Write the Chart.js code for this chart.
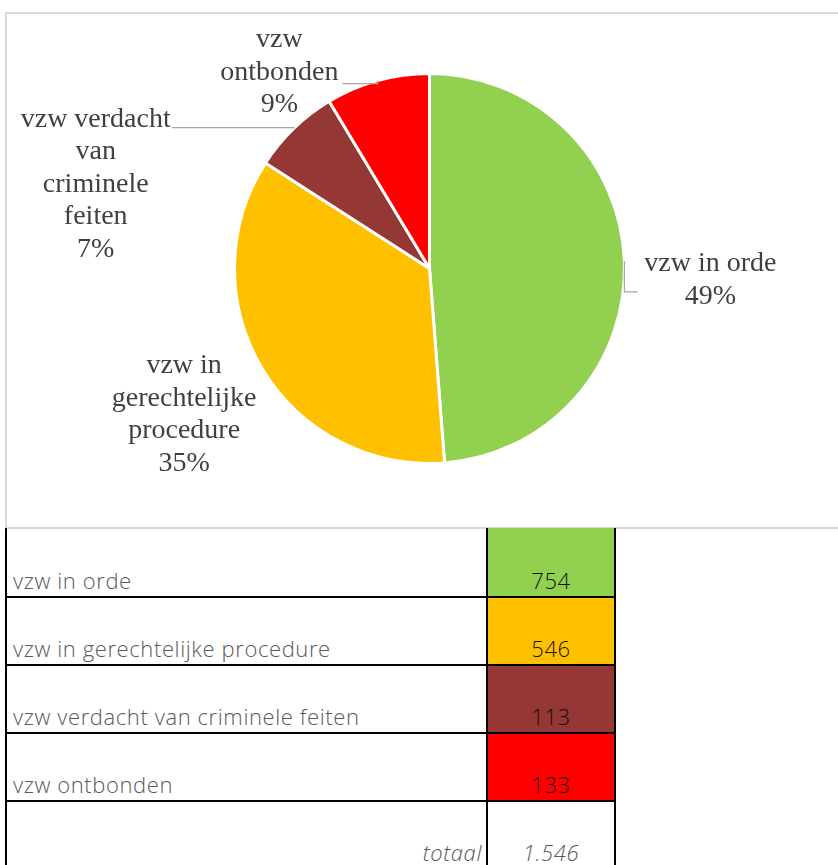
<!DOCTYPE html>
<html>
<head>
<meta charset="utf-8">
<script src="https://cdn.jsdelivr.net/npm/chart.js@4.4.1/dist/chart.umd.min.js"></script>
<style>
  html, body { margin: 0; padding: 0; background: #fff; }
  body { width: 838px; height: 865px; position: relative; overflow: hidden; }
  #kader { position: absolute; left: 5px; top: 12px; width: 900px; height: 513px; border: 2px solid #d9d9d9; }
  #grafiek { position: absolute; left: 0; top: 0; }
  #tabel { position: absolute; left: 5px; top: 528px; width: 610px; table-layout: fixed; border-collapse: collapse; font-family: "Open Sans", Lato, sans-serif; font-weight: 300; font-size: 22px; letter-spacing: 0.6px; }
  #tabel td { border: 2px solid #000; height: 65px; vertical-align: bottom; padding: 0 0 1px 0; white-space: nowrap; overflow: hidden; }
  #tabel tr:first-child td { border-top: none; height: 67px; }
  #tabel td.naam { color: #595959; padding-left: 6px; }
  #tabel td.getal { text-align: center; color: #111; }
  #tabel td.totaal { text-align: right; padding-right: 4px; font-style: italic; color: #595959; }
  #tabel td.totgetal { font-style: italic; color: #595959; }
</style>
</head>
<body>
<div id="kader"></div>
<canvas id="grafiek" width="838" height="528"></canvas>
<table id="tabel"><colgroup><col style="width:481px"><col style="width:128px"></colgroup><tbody id="rijen"></tbody></table>
<script>
  const categorieen = ['vzw in orde', 'vzw in gerechtelijke procedure', 'vzw verdacht van criminele feiten', 'vzw ontbonden'];
  const aantallen = [754, 546, 113, 133];
  const kleuren = ['#92D050', '#FFC000', '#953735', '#FF0000'];
  const labelRegels = [
    ['vzw in orde'],
    ['vzw in', 'gerechtelijke', 'procedure'],
    ['vzw verdacht', 'van', 'criminele', 'feiten'],
    ['vzw', 'ontbonden']
  ];

  // plaats van de labels t.o.v. het middelpunt van de boog (rand), en begin van de verbindingslijn
  const labelPlaats = [
    { dx: 86, dy: 19, lijn: [-73, 12] },
    { dx: -78, dy: 46, lijn: null },
    { dx: -198, dy: 56, lijn: [76, -57] },
    { dx: -98, dy: -8, lijn: [63, 11] }
  ];

  const totaal = aantallen.reduce((a, b) => a + b, 0);
  const procent = aantallen.map(v => Math.round(v / totaal * 100) + '%');

  function formatNL(n) {
    return String(n).replace(/\B(?=(\d{3})+(?!\d))/g, '.');
  }

  // tabel onder de grafiek
  const rijen = document.getElementById('rijen');
  categorieen.forEach((naam, i) => {
    const tr = document.createElement('tr');
    tr.innerHTML = `<td class="naam">${naam}</td><td class="getal" style="background:${kleuren[i]}">${aantallen[i]}</td>`;
    rijen.appendChild(tr);
  });
  const trTot = document.createElement('tr');
  trTot.innerHTML = `<td class="naam totaal">totaal</td><td class="getal totgetal">${formatNL(totaal)}</td>`;
  rijen.appendChild(trTot);

  const labelPlugin = {
    id: 'pieLabels',
    afterDatasetsDraw(chart) {
      const ctx = chart.ctx;
      const meta = chart.getDatasetMeta(0);
      ctx.save();
      ctx.font = '28px "Liberation Serif", "Times New Roman", serif';
      ctx.textAlign = 'center';
      ctx.textBaseline = 'middle';
      const regelHoogte = 32.5;
      meta.data.forEach((arc, i) => {
        const p = arc.getProps(['x', 'y', 'startAngle', 'endAngle', 'outerRadius'], true);
        const mid = (p.startAngle + p.endAngle) / 2;
        const rx = p.x + Math.cos(mid) * p.outerRadius;
        const ry = p.y + Math.sin(mid) * p.outerRadius;
        const pl = labelPlaats[i];
        const cx = rx + pl.dx;
        const cy = ry + pl.dy;
        const regels = labelRegels[i].concat([procent[i]]);
        const y0 = cy - (regels.length - 1) * regelHoogte / 2;
        if (pl.lijn) {
          const lx = cx + pl.lijn[0];
          const ly = cy + pl.lijn[1];
          ctx.strokeStyle = '#a6a6a6';
          ctx.lineWidth = 1.2;
          ctx.beginPath();
          ctx.moveTo(lx, ly);
          ctx.lineTo(rx, ly);
          ctx.lineTo(rx, ry);
          ctx.stroke();
        }
        ctx.fillStyle = '#404040';
        regels.forEach((t, k) => ctx.fillText(t, cx, y0 + k * regelHoogte));
      });
      ctx.restore();
    }
  };

  new Chart(document.getElementById('grafiek'), {
    type: 'pie',
    data: {
      labels: categorieen,
      datasets: [{
        data: aantallen,
        backgroundColor: kleuren,
        borderColor: '#ffffff',
        borderWidth: 3
      }]
    },
    options: {
      responsive: false,
      animation: false,
      layout: { padding: { left: 233, right: 212, top: 72, bottom: 63 } },
      plugins: {
        legend: { display: false },
        tooltip: { enabled: false }
      }
    },
    plugins: [labelPlugin]
  });
</script>
</body>
</html>
